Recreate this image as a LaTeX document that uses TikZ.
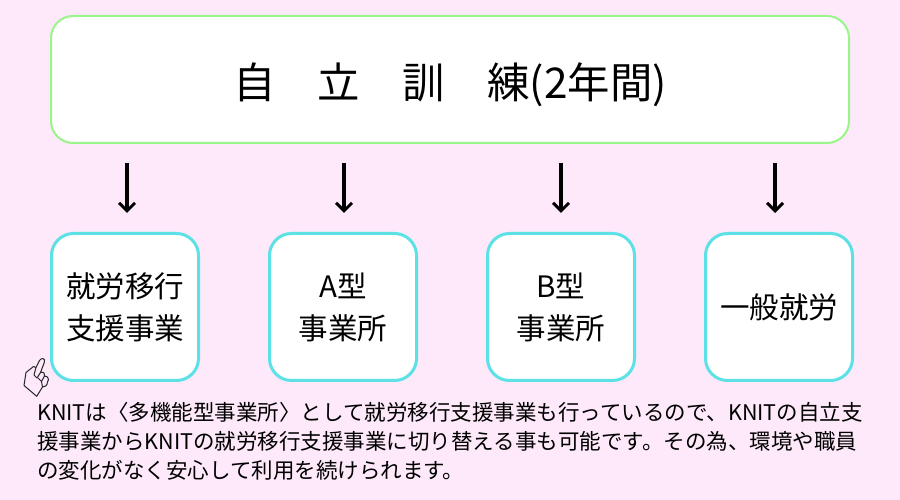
\documentclass[tikz,border=0pt]{standalone}
\usepackage{fontspec}
\usetikzlibrary{arrows.meta}
\setmainfont{Noto Sans CJK JP}
\definecolor{bgpink}{HTML}{FDE9F9}
\definecolor{titleline}{HTML}{99F58A}
\definecolor{boxline}{HTML}{5CE1E6}
\tikzset{
  titlebox/.style={draw=titleline,fill=white,line width=2pt,rounded corners=22pt,minimum width=798pt,minimum height=127pt,inner sep=0pt,font=\fontsize{42.4}{48}\selectfont},
  stepbox/.style={draw=boxline,fill=white,line width=3pt,rounded corners=22pt,minimum width=147pt,minimum height=147pt,inner sep=0pt,align=center,font=\fontsize{29.5}{42}\selectfont},
  flowarrow/.style={-{Straight Barb[length=8pt,width=16pt,line width=3pt]},line width=3.5pt},
  handline/.style={line width=1pt,line join=round,draw=black!85}
}
\begin{document}
\begin{tikzpicture}[x=1pt,y=1pt]
  % Page background
  \fill[bgpink] (0,0) rectangle (900,500);
  \useasboundingbox (0,0) rectangle (900,500);

  % Title
  \node[titlebox,text depth=0pt] (title) at (450,420.5) {\raisebox{-1.5pt}{自　立　訓　練(2年間)}};

  % Destinations
  \node[stepbox] (iko) at (125,193) {就労移行\\支援事業};
  \node[stepbox] (typea) at (343,193) {A型\\事業所};
  \node[stepbox] (typeb) at (561,193) {B型\\事業所};
  \node[stepbox] (ippan) at (779,193) {一般就労};

  % Flows down
  \foreach \name/\xpos in {iko/127,typea/344,typeb/561,ippan/775} {
    \coordinate (\name top) at (\xpos,337);
    \coordinate (\name end) at (\xpos,287);
    \draw[flowarrow] (\name top) -- (\name end);
  }

  % Pointing hand
  \begin{scope}[shift={(0,500)},yscale=-1]
    \draw[handline] (24,385.5) -- (26,372.5) -- (33.5,366.5) -- (36,367.5) -- (39.5,360.5)
      .. controls (41,357.5) and (45.5,358) .. (44.5,362) -- (40.5,372.5)
      .. controls (43.5,371.5) and (45.5,373.5) .. (44.5,376)
      .. controls (48,376) and (49.5,379.5) .. (47.5,382)
      .. controls (47.5,385.5) and (44.5,387.5) .. (42.5,387) -- (36.7,396.3) -- cycle;
    \draw[handline] (36,367.5) -- (34,375) -- (37,378) -- (40.5,372.5);
    \draw[handline] (38,378) -- (41.5,381.5) -- (44.5,376);
    \draw[handline] (41.5,381.5) -- (42.5,387);
  \end{scope}

  % Note
  \node[anchor=north west,inner sep=0pt,align=left,font=\fontsize{21.5}{29}\selectfont] (note) at (37,97.5)
    {KNITは〈多機能型事業所〉として就労移行支援事業も行っているので、KNITの自立支\\
     援事業からKNITの就労移行支援事業に切り替える事も可能です。その為、環境や職員\\
     の変化がなく安心して利用を続けられます。};
\end{tikzpicture}
\end{document}
